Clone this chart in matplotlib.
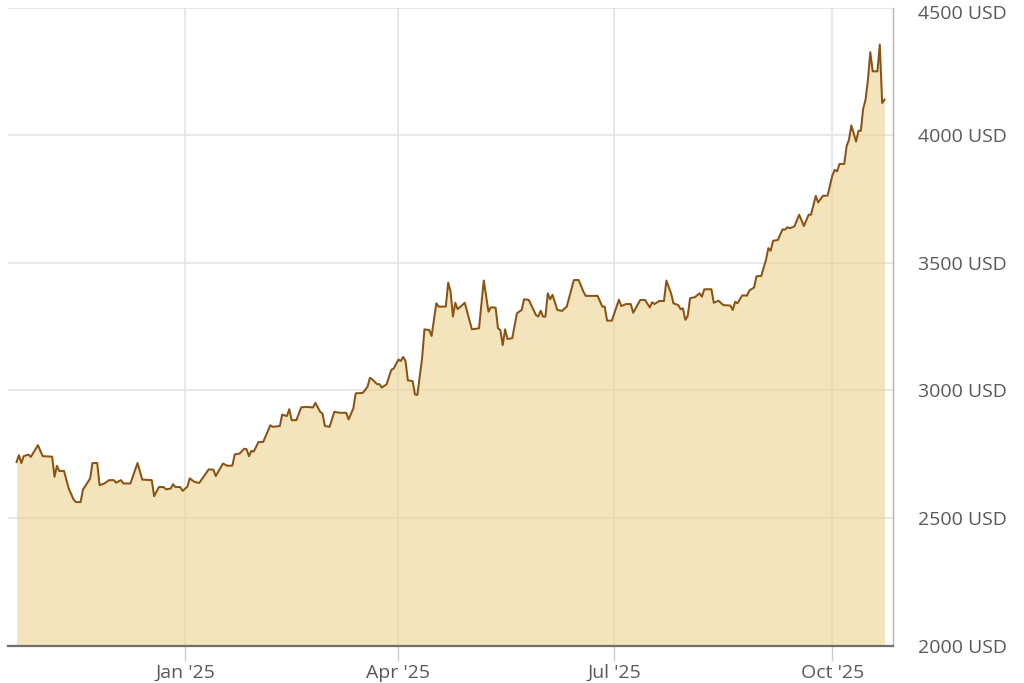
"""
Gold price, last 12 months (USD per troy ounce), area chart.
"""

import matplotlib
matplotlib.use("Agg")
import matplotlib.pyplot as plt
import matplotlib.transforms as mtransforms
import pandas as pd

# Data (daily points around each turn of the line)
DATES = [
    # Oct / Nov 2024
    "2024-10-22", "2024-10-23", "2024-10-24", "2024-10-25", "2024-10-27", "2024-10-28", "2024-10-31",
    "2024-11-02", "2024-11-06", "2024-11-07", "2024-11-08", "2024-11-09", "2024-11-11", "2024-11-13",
    "2024-11-15", "2024-11-16", "2024-11-18", "2024-11-19", "2024-11-22", "2024-11-23", "2024-11-25",
    "2024-11-26", "2024-11-28", "2024-11-30",
    # Dec 2024
    "2024-12-02", "2024-12-03", "2024-12-05", "2024-12-06", "2024-12-09", "2024-12-12", "2024-12-14",
    "2024-12-18", "2024-12-19", "2024-12-21", "2024-12-23", "2024-12-24", "2024-12-26", "2024-12-27",
    "2024-12-28", "2024-12-30", "2024-12-31",
    # Jan 2025
    "2025-01-02", "2025-01-03", "2025-01-05", "2025-01-07", "2025-01-09", "2025-01-11", "2025-01-13",
    "2025-01-14", "2025-01-17", "2025-01-19", "2025-01-21", "2025-01-22", "2025-01-24", "2025-01-26",
    "2025-01-27", "2025-01-28", "2025-01-29", "2025-01-30",
    # Feb 2025
    "2025-02-01", "2025-02-03", "2025-02-06", "2025-02-07", "2025-02-10", "2025-02-11", "2025-02-13",
    "2025-02-14", "2025-02-15", "2025-02-17", "2025-02-19", "2025-02-21", "2025-02-24", "2025-02-25",
    "2025-02-27", "2025-02-28",
    # Mar 2025
    "2025-03-01", "2025-03-03", "2025-03-05", "2025-03-07", "2025-03-10", "2025-03-11", "2025-03-13",
    "2025-03-14", "2025-03-17", "2025-03-19", "2025-03-20", "2025-03-21", "2025-03-23", "2025-03-24",
    "2025-03-25", "2025-03-27", "2025-03-29", "2025-03-30",
    # Apr 2025
    "2025-04-01", "2025-04-02", "2025-04-03", "2025-04-04", "2025-04-05", "2025-04-07", "2025-04-08",
    "2025-04-09", "2025-04-11", "2025-04-12", "2025-04-14", "2025-04-15", "2025-04-17", "2025-04-18",
    "2025-04-21", "2025-04-22", "2025-04-23", "2025-04-24", "2025-04-25", "2025-04-26", "2025-04-29",
    "2025-04-30",
    # May 2025
    "2025-05-02", "2025-05-05", "2025-05-07", "2025-05-09", "2025-05-10", "2025-05-12", "2025-05-13",
    "2025-05-14", "2025-05-15", "2025-05-16", "2025-05-17", "2025-05-19", "2025-05-21", "2025-05-23",
    "2025-05-24", "2025-05-26", "2025-05-29", "2025-05-30", "2025-05-31",
    # Jun 2025
    "2025-06-01", "2025-06-02", "2025-06-03", "2025-06-04", "2025-06-05", "2025-06-07", "2025-06-09",
    "2025-06-11", "2025-06-14", "2025-06-16", "2025-06-18", "2025-06-19", "2025-06-24", "2025-06-26",
    "2025-06-27", "2025-06-28", "2025-06-30",
    # Jul 2025
    "2025-07-03", "2025-07-04", "2025-07-06", "2025-07-08", "2025-07-09", "2025-07-12", "2025-07-14",
    "2025-07-16", "2025-07-17", "2025-07-18", "2025-07-20", "2025-07-22", "2025-07-23", "2025-07-25",
    "2025-07-26", "2025-07-28", "2025-07-29", "2025-07-30", "2025-07-31",
    # Aug 2025
    "2025-08-01", "2025-08-02", "2025-08-04", "2025-08-06", "2025-08-07", "2025-08-08", "2025-08-11",
    "2025-08-12", "2025-08-14", "2025-08-16", "2025-08-19", "2025-08-20", "2025-08-21", "2025-08-22",
    "2025-08-24", "2025-08-26", "2025-08-27", "2025-08-29", "2025-08-30",
    # Sep 2025
    "2025-09-01", "2025-09-03", "2025-09-04", "2025-09-05", "2025-09-06", "2025-09-08", "2025-09-10",
    "2025-09-11", "2025-09-12", "2025-09-13", "2025-09-15", "2025-09-17", "2025-09-19", "2025-09-21",
    "2025-09-22", "2025-09-24", "2025-09-25", "2025-09-27", "2025-09-29",
    # Oct 2025
    "2025-10-01", "2025-10-02", "2025-10-03", "2025-10-04", "2025-10-06", "2025-10-07", "2025-10-08",
    "2025-10-09", "2025-10-11", "2025-10-12", "2025-10-13", "2025-10-14", "2025-10-15", "2025-10-16",
    "2025-10-17", "2025-10-18", "2025-10-20", "2025-10-21", "2025-10-22", "2025-10-23",
]

PRICES = [
    # Oct / Nov 2024
    2719, 2746, 2715, 2742, 2748, 2739, 2785,
    2742, 2740, 2661, 2704, 2684, 2684, 2615,
    2573, 2562, 2562, 2611, 2654, 2715, 2715,
    2628, 2635, 2648,
    # Dec 2024
    2648, 2638, 2648, 2635, 2635, 2715, 2650,
    2648, 2585, 2621, 2621, 2612, 2615, 2632,
    2621, 2621, 2606,
    # Jan 2025
    2622, 2655, 2641, 2637, 2663, 2690, 2689,
    2664, 2713, 2704, 2705, 2749, 2752, 2771,
    2769, 2742, 2763, 2760,
    # Feb 2025
    2797, 2798, 2863, 2857, 2860, 2905, 2899,
    2926, 2883, 2883, 2933, 2935, 2933, 2951,
    2916, 2909,
    # Mar 2025
    2860, 2857, 2916, 2912, 2912, 2886, 2929,
    2988, 2990, 3014, 3049, 3043, 3024, 3024,
    3011, 3023, 3080, 3085,
    # Apr 2025
    3120, 3115, 3131, 3115, 3039, 3036, 2984,
    2982, 3126, 3239, 3236, 3213, 3341, 3328,
    3328, 3422, 3387, 3289, 3343, 3318, 3343,
    3308,
    # May 2025
    3239, 3243, 3430, 3308, 3325, 3324, 3243,
    3236, 3177, 3239, 3201, 3204, 3302, 3315,
    3357, 3354, 3295, 3289, 3312,
    # Jun 2025
    3289, 3289, 3380, 3357, 3374, 3315, 3311,
    3328, 3432, 3432, 3387, 3370, 3370, 3328,
    3328, 3273, 3273,
    # Jul 2025
    3355, 3330, 3338, 3338, 3304, 3354, 3354,
    3325, 3345, 3338, 3350, 3350, 3430, 3380,
    3341, 3334, 3318, 3321, 3276,
    # Aug 2025
    3291, 3361, 3365, 3380, 3367, 3396, 3396,
    3343, 3351, 3334, 3332, 3315, 3347, 3341,
    3372, 3371, 3391, 3403, 3447,
    # Sep 2025
    3448, 3511, 3557, 3547, 3586, 3589, 3631,
    3629, 3639, 3635, 3642, 3688, 3644, 3688,
    3688, 3762, 3736, 3762, 3763,
    # Oct 2025
    3842, 3864, 3858, 3887, 3887, 3956, 3982,
    4038, 3975, 4017, 4017, 4104, 4139, 4217,
    4325, 4250, 4250, 4355, 4126, 4139,
]

X_TICKS = ["2025-01-01", "2025-04-01", "2025-07-01", "2025-10-01"]
X_TICK_LABELS = ["Jan '25", "Apr '25", "Jul '25", "Oct '25"]
Y_TICKS = [2000, 2500, 3000, 3500, 4000, 4500]

# Styling
FILL_COLOR = "#ebd28f"
LINE_COLOR = "#8a5312"
GRID_COLOR = "#e4e4e4"
TEXT_COLOR = "#595959"


def plot_gold():
    assert len(DATES) == len(PRICES)
    dates = pd.to_datetime(DATES)

    plt.rcParams["font.family"] = ["Open Sans", "DejaVu Sans"]

    fig = plt.figure(figsize=(10.24, 6.83), dpi=100)
    ax = fig.add_axes([0.0078, 0.0549, 0.8643, 0.9341])

    ax.fill_between(dates, PRICES, Y_TICKS[0], color=FILL_COLOR, alpha=0.6, lw=0, zorder=2)
    ax.plot(dates, PRICES, color=LINE_COLOR, lw=1.45, zorder=3)

    ax.set_xlim(pd.Timestamp("2024-10-18 09:00"), pd.Timestamp("2025-10-26 14:00"))
    ax.set_ylim(Y_TICKS[0], Y_TICKS[-1])

    ax.set_xticks(pd.to_datetime(X_TICKS))
    ax.set_xticklabels(X_TICK_LABELS)
    ax.set_yticks(Y_TICKS)
    ax.set_yticklabels([f"{v} USD" for v in Y_TICKS])

    ax.yaxis.tick_right()
    ax.set_axisbelow(True)
    ax.grid(True, color=GRID_COLOR, lw=1.2)

    ax.tick_params(axis="x", length=11, width=1, color="#cccccc", pad=2,
                   labelsize=14, labelcolor=TEXT_COLOR)
    ax.tick_params(axis="y", length=0, pad=18, labelsize=14, labelcolor=TEXT_COLOR)

    # top label sits a little below its gridline so it isn't cut off
    top_label = ax.get_yticklabels()[-1]
    top_label.set_transform(top_label.get_transform() +
                            mtransforms.ScaledTranslation(0, -4 / 100, fig.dpi_scale_trans))

    for side in ["top", "left"]:
        ax.spines[side].set_visible(False)
    ax.spines["bottom"].set_color("#6e6e6e")
    ax.spines["bottom"].set_linewidth(1.6)
    ax.spines["right"].set_color("#b4b4b4")
    ax.spines["right"].set_linewidth(1.0)

    fig.savefig("out.png", dpi=100)
    plt.close(fig)


if __name__ == "__main__":
    plot_gold()
